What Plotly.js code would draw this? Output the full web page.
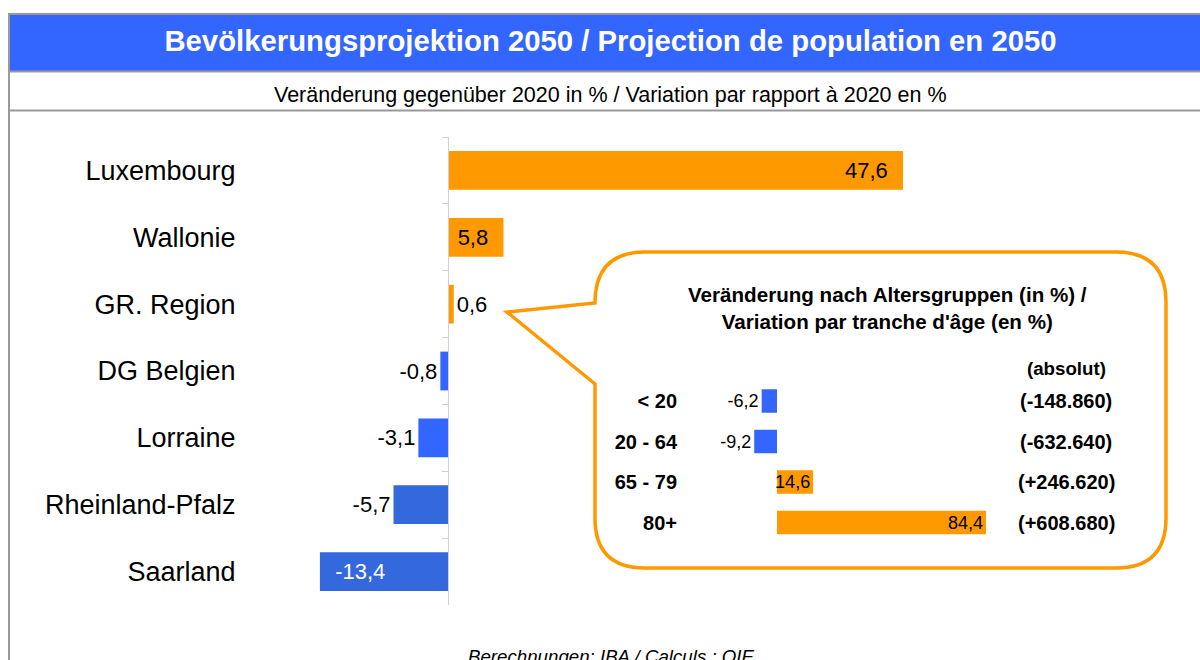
<!DOCTYPE html>
<html>
<head>
<meta charset="utf-8">
<script src="https://cdn.plot.ly/plotly-3.0.1.min.js"></script>
<style>
  html, body { margin: 0; padding: 0; background: #fff; }
  #chart { width: 1200px; height: 660px; }
</style>
</head>
<body>
<div id="chart"></div>
<script>
// ---- Data ----
const regions = ["Luxembourg", "Wallonie", "GR. Region", "DG Belgien", "Lorraine", "Rheinland-Pfalz", "Saarland"];
const regionChange = [47.6, 5.8, 0.6, -0.8, -3.1, -5.7, -13.4];

const ageGroups = ["< 20", "20 - 64", "65 - 79", "80+"];
const ageChange = [-6.2, -9.2, 14.6, 84.4];
const ageAbsolute = [-148860, -632640, 246620, 608680];

const titleText = "Bevölkerungsprojektion 2050 / Projection de population en 2050";
const subtitleText = "Veränderung gegenüber 2020 in % / Variation par rapport à 2020 en %";
const insetTitle = "Veränderung nach Altersgruppen (in %) /<br>Variation par tranche d'âge (en %)";
const absHeader = "(absolut)";
const sourceText = "Berechnungen: IBA / Calculs : OIE";

// ---- Helpers ----
const W = 1200, H = 660;
const X = px => px / W;
const Y = py => 1 - py / H;
const FONT = "Liberation Sans, Arial, sans-serif";
const ORANGE = "#ff9900", BLUE = "#3366ff", BLUE2 = "#3468dd";
const PAD = "\u00a0\u00a0";

function fmtAbs(v) {
  const s = Math.abs(v).toString().replace(/\B(?=(\d{3})+(?!\d))/g, ".");
  return "(" + (v < 0 ? "-" : "+") + s + ")";
}

const mainColors = regionChange.map(v => v >= 0 ? ORANGE : (v < -5 ? BLUE2 : BLUE));
const mainInside = regionChange.map(v => v >= 5 || v <= -10);
const mainTextPos = mainInside.map(b => b ? "inside" : "outside");
const mainTemplate = regionChange.map((v, i) =>
  mainInside[i] ? (v >= 0 ? "%{x:.1f}" + PAD : PAD + "%{x:.1f}") : "%{x:.1f}");
const mainTextColor = regionChange.map(v => (v <= -10 ? "#ffffff" : "#000000"));

const ageColors = ageChange.map(v => v >= 0 ? ORANGE : BLUE);
const ageTextPos = ageChange.map(v => v >= 0 ? "inside" : "outside");

// ---- Traces ----
const mainTrace = {
  type: "bar", orientation: "h",
  y: regions, x: regionChange,
  xaxis: "x", yaxis: "y",
  marker: { color: mainColors, line: { width: 0 } },
  texttemplate: mainTemplate,
  textposition: mainTextPos,
  insidetextanchor: "end",
  constraintext: "none",
  textfont: { family: FONT, size: 22, color: mainTextColor },
  cliponaxis: false,
  hoverinfo: "skip"
};

const ageTrace = {
  type: "bar", orientation: "h",
  y: ageGroups, x: ageChange,
  xaxis: "x2", yaxis: "y2",
  marker: { color: ageColors, line: { width: 0 } },
  texttemplate: "%{x:.1f}",
  textposition: ageTextPos,
  insidetextanchor: "end",
  constraintext: "none",
  textfont: { family: FONT, size: 18, color: "#000000" },
  cliponaxis: false,
  hoverinfo: "skip"
};

// ---- Shapes ----
const callout = [
  "M", X(645), Y(252),
  "L", X(1116), Y(252),
  "Q", X(1166), Y(252), X(1166), Y(302),
  "L", X(1166), Y(518),
  "Q", X(1166), Y(568), X(1116), Y(568),
  "L", X(645), Y(568),
  "Q", X(595), Y(568), X(595), Y(518),
  "L", X(595), Y(384),
  "L", X(507), Y(312),
  "L", X(595), Y(303),
  "Q", X(595), Y(252), X(645), Y(252),
  "Z"
].join(" ");

const shapes = [
  { type: "rect", xref: "paper", yref: "paper", x0: X(9), x1: X(1200), y0: Y(15), y1: Y(71),
    fillcolor: BLUE, line: { width: 0 }, layer: "below" },
  { type: "line", xref: "paper", yref: "paper", x0: X(8), x1: X(1200), y0: Y(14), y1: Y(14),
    line: { color: "#999999", width: 2 } },
  { type: "line", xref: "paper", yref: "paper", x0: X(9), x1: X(1200), y0: Y(71.5), y1: Y(71.5),
    line: { color: "#999999", width: 2 } },
  { type: "line", xref: "paper", yref: "paper", x0: X(9), x1: X(1200), y0: Y(110.5), y1: Y(110.5),
    line: { color: "#999999", width: 2 } },
  { type: "line", xref: "paper", yref: "paper", x0: X(9), x1: X(9), y0: Y(13), y1: Y(660),
    line: { color: "#999999", width: 2 } },
  { type: "path", xref: "paper", yref: "paper", path: callout,
    fillcolor: "#ffffff", line: { color: ORANGE, width: 3.5 }, layer: "below" }
];

// ---- Annotations ----
const annotations = [
  { xref: "paper", yref: "paper", x: X(610), y: Y(95), xanchor: "center", yanchor: "middle",
    text: subtitleText, showarrow: false, font: { family: FONT, size: 21.5, color: "#000" } },
  { xref: "paper", yref: "paper", x: X(887), y: Y(308), xanchor: "center", yanchor: "middle",
    text: insetTitle, showarrow: false, font: { family: FONT, size: 20.6, color: "#000", weight: "bold" } },
  { xref: "paper", yref: "paper", x: X(1066), y: Y(368), xanchor: "center", yanchor: "middle",
    text: absHeader, showarrow: false, font: { family: FONT, size: 18.7, color: "#000", weight: "bold" } },
  { xref: "paper", yref: "paper", x: X(611), y: Y(644), xanchor: "center", yanchor: "top",
    text: "<i>" + sourceText + "</i>", showarrow: false, font: { family: FONT, size: 18.7, color: "#000" } }
];
ageGroups.forEach((g, i) => {
  annotations.push({
    xref: "paper", yref: "y2", x: X(1066), y: g, xanchor: "center", yanchor: "middle",
    text: fmtAbs(ageAbsolute[i]), showarrow: false,
    font: { family: FONT, size: 20, color: "#000", weight: "bold" }
  });
});

// ---- Layout ----
const zeroPx = 448, mainScale = (903 - 448) / 47.6;
const mainL = 300, mainR = 1000;
const insetZero = 777, insetScale = 209 / 84.4;
const insetL = 690, insetR = 1010;

const layout = {
  width: W, height: H,
  margin: { l: 0, r: 0, t: 0, b: 0, pad: 0 },
  paper_bgcolor: "#ffffff",
  plot_bgcolor: "rgba(0,0,0,0)",
  separators: ",.",
  showlegend: false,
  bargap: 0.42,
  font: { family: FONT, color: "#000" },
  title: {
    text: titleText, xref: "paper", yref: "paper",
    x: X(610.5), y: Y(41), xanchor: "center", yanchor: "middle",
    font: { family: FONT, size: 29.3, color: "#ffffff", weight: "bold" }
  },
  xaxis: {
    domain: [X(mainL), X(mainR)],
    range: [-(zeroPx - mainL) / mainScale, (mainR - zeroPx) / mainScale],
    visible: false, zeroline: false, showgrid: false, fixedrange: true, anchor: "y"
  },
  yaxis: {
    domain: [Y(605), Y(137)],
    type: "category", categoryorder: "array", categoryarray: regions,
    autorange: "reversed",
    anchor: "free", position: X(zeroPx),
    showline: true, linecolor: "#d0d0d0", linewidth: 1,
    ticks: "outside", tickson: "boundaries", ticklen: 6, tickcolor: "#d0d0d0", tickwidth: 1,
    showgrid: false, zeroline: false, fixedrange: true, automargin: false,
    ticklabelstandoff: 207,
    tickfont: { family: FONT, size: 27, color: "#000" }
  },
  xaxis2: {
    domain: [X(insetL), X(insetR)],
    range: [-(insetZero - insetL) / insetScale, (insetR - insetZero) / insetScale],
    visible: false, zeroline: false, showgrid: false, fixedrange: true, anchor: "y2"
  },
  yaxis2: {
    domain: [Y(542.75), Y(380.75)],
    type: "category", categoryorder: "array", categoryarray: ageGroups,
    autorange: "reversed", anchor: "x2",
    showline: false, ticks: "", showgrid: false, zeroline: false, fixedrange: true, automargin: false,
    ticklabelstandoff: 12,
    tickfont: { family: FONT, size: 20, color: "#000", weight: "bold" }
  },
  shapes: shapes,
  annotations: annotations
};

Plotly.newPlot("chart", [mainTrace, ageTrace], layout, { displayModeBar: false, staticPlot: true });
</script>
</body>
</html>
